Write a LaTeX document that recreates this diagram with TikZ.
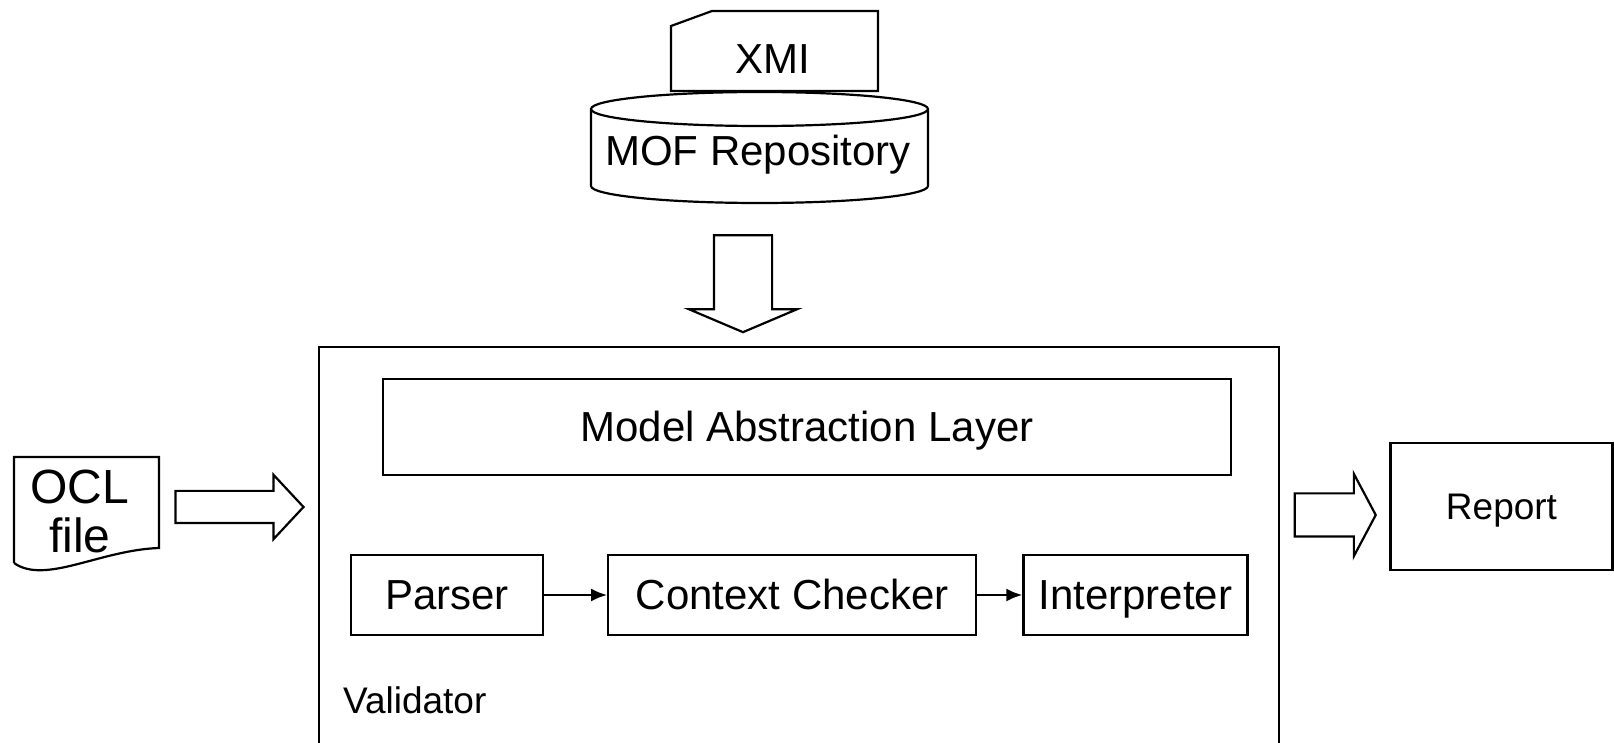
\documentclass[tikz,border=0pt]{standalone}
\usepackage{fontspec}
\setmainfont{Liberation Sans}
\usetikzlibrary{positioning}
\usetikzlibrary{shapes.arrows}
\usetikzlibrary{arrows.meta}

\begin{document}
\begin{tikzpicture}[
    x=0.5pt, y=-0.5pt,
    line width=1.1pt,
    every node/.style={font=\fontsize{21}{24.5}\selectfont},
    block/.style={draw, inner sep=0pt, text height=14.5pt, text depth=0pt, minimum height=40pt},
    word/.style={inner sep=0pt, text height=14.5pt, text depth=0pt},
    fatarrow/.style={single arrow, draw},
    flow/.style={-{Latex[length=8pt,width=6.5pt]}}
]
\useasboundingbox (0,0) rectangle (1614,743);

% repository with the xmi card
\draw (671,91) -- (671,26) -- (712,11) -- (878,11) -- (878,91) -- cycle;
\node[word] (xmi) at (773,59) {XMI};
\draw[fill=white] (591,109) -- (591,186) arc[start angle=180, end angle=360, x radius=84.25pt, y radius=8.5pt]
    -- (928,109) arc[start angle=0, end angle=180, x radius=84.25pt, y radius=8.5pt] -- cycle;
\draw (591,109) arc[start angle=180, end angle=360, x radius=84.25pt, y radius=8.5pt];
\node[word] (mof) at (758,151) {MOF Repository};
\node[fatarrow, inner sep=14pt, shape border rotate=270, minimum height=48.5pt, minimum width=54pt,
      single arrow head extend=12.5pt, single arrow tip angle=134] (load) at (743,277.5) {};

% validator
\node[draw, inner sep=0pt, minimum width=480pt, minimum height=200pt] (validator) at (799,547) {};
\node[block, minimum width=424pt, minimum height=48pt] (mal) at (807,427) {Model Abstraction Layer};
\node[block, minimum width=96pt] (parser) at (447,595) {Parser};
\node[block, minimum width=184pt, right=31.5pt of parser] (checker) {Context Checker};
\node[block, minimum width=112pt, right=22.5pt of checker] (interp) {Interpreter};
\draw[flow] (parser) -- (checker);
\draw[flow] (checker) -- (interp);
\node[anchor=base west, inner sep=0pt, font=\fontsize{18.5}{22}\selectfont] (vname) at (342,713) {Validator};

% input and output
\draw (14,563) -- (14,457) -- (159,457) -- (159,548) .. controls (100,550) and (45,585) .. (14,563);
\node[align=center, inner sep=0pt, font=\fontsize{24}{24.5}\selectfont] (ocl) at (80,511) {OCL\\file};
\node[fatarrow, inner sep=7.5pt, minimum height=64pt, minimum width=31pt,
      single arrow head extend=8pt, single arrow tip angle=94] (input) at (232,507) {};
\node[fatarrow, inner sep=10.25pt, minimum height=40.5pt, minimum width=40pt,
      single arrow head extend=9.75pt, single arrow tip angle=124] (output) at (1329.5,515) {};
\node[block, minimum width=111pt, minimum height=63.5pt, font=\fontsize{18.5}{22}\selectfont,
      text height=13pt] (report) at (1501.5,506.5) {Report};
\end{tikzpicture}
\end{document}
